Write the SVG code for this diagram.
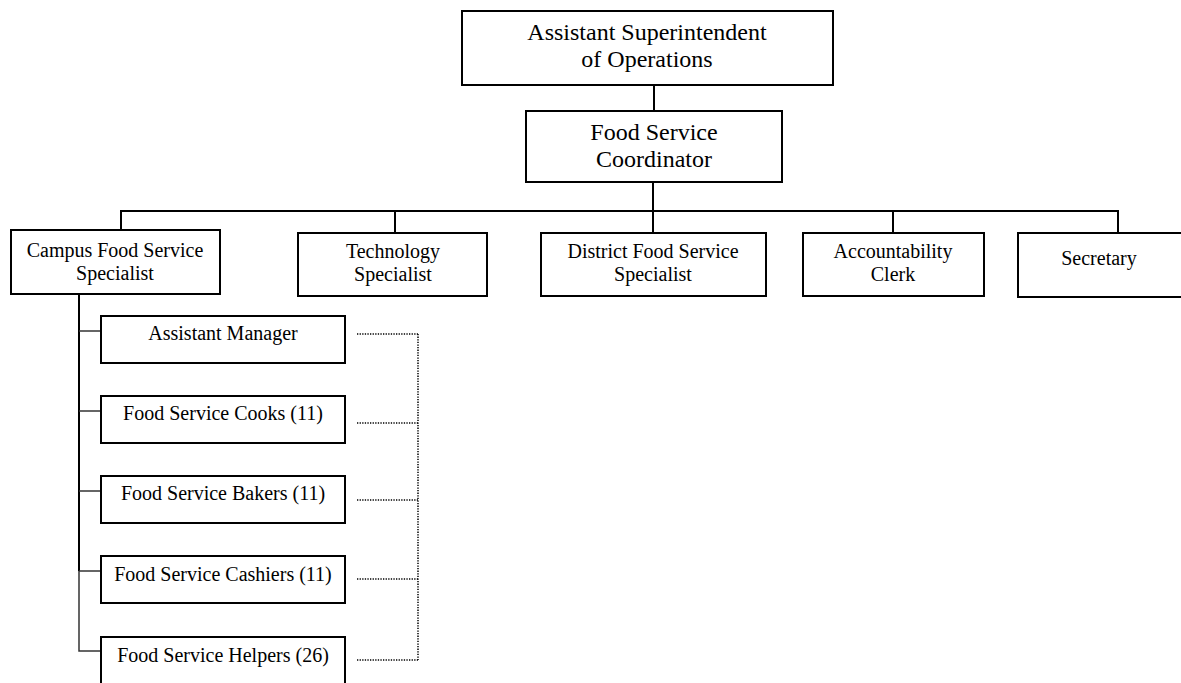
<svg xmlns="http://www.w3.org/2000/svg" width="1181" height="683" viewBox="0 0 1181 683">
<style>
.box{fill:#fff;stroke:#000;stroke-width:2}
.t{font-family:"Liberation Serif","Times New Roman",serif;fill:#000;text-anchor:middle}
.big{font-size:24px}
.mid{font-size:20px}
.c{stroke:#000;stroke-width:2;fill:none}
.g{stroke:#333;stroke-width:1.5;fill:none}
.d{stroke:#000;stroke-width:1.5;fill:none;stroke-dasharray:1.3 1.3}
</style>
<rect width="1181" height="683" fill="#fff"/>
<g id="connectors">
<line class="c" x1="654" y1="85" x2="654" y2="111"/>
<line class="c" x1="653" y1="182" x2="653" y2="233"/>
<line class="c" x1="120" y1="211" x2="1119" y2="211"/>
<line class="c" x1="121" y1="210" x2="121" y2="230"/>
<line class="c" x1="395" y1="210" x2="395" y2="233"/>
<line class="c" x1="893" y1="210" x2="893" y2="233"/>
<line class="c" x1="1118" y1="210" x2="1118" y2="233"/>
<line class="c" x1="79" y1="294" x2="79" y2="571"/>
<path class="g" d="M79 571 V651 H101"/>
<line class="g" x1="79" y1="331" x2="101" y2="331"/>
<line class="g" x1="79" y1="411" x2="101" y2="411"/>
<line class="g" x1="79" y1="491" x2="101" y2="491"/>
<line class="g" x1="79" y1="571" x2="101" y2="571"/>
<line class="d" x1="357" y1="334" x2="418" y2="334"/>
<line class="d" x1="357" y1="423" x2="418" y2="423"/>
<line class="d" x1="357" y1="500" x2="418" y2="500"/>
<line class="d" x1="357" y1="579" x2="418" y2="579"/>
<line class="d" x1="357" y1="660" x2="418" y2="660"/>
<line class="d" x1="418" y1="334" x2="418" y2="660"/>
</g>
<g id="n-asst-super">
<rect class="box" x="462" y="11" width="371" height="74"/>
<text class="t big" x="647" y="40">Assistant Superintendent</text>
<text class="t big" x="647" y="67">of Operations</text>
</g>
<g id="n-coordinator">
<rect class="box" x="526" y="111" width="256" height="71"/>
<text class="t big" x="654" y="140">Food Service</text>
<text class="t big" x="654" y="167">Coordinator</text>
</g>
<g id="n-campus">
<rect class="box" x="11" y="230" width="209" height="64"/>
<text class="t mid" x="115" y="257">Campus Food Service</text>
<text class="t mid" x="115" y="280">Specialist</text>
</g>
<g id="n-technology">
<rect class="box" x="298" y="233" width="189" height="63"/>
<text class="t mid" x="393" y="258">Technology</text>
<text class="t mid" x="393" y="281">Specialist</text>
</g>
<g id="n-district">
<rect class="box" x="541" y="233" width="225" height="63"/>
<text class="t mid" x="653" y="258">District Food Service</text>
<text class="t mid" x="653" y="281">Specialist</text>
</g>
<g id="n-accountability">
<rect class="box" x="803" y="233" width="181" height="63"/>
<text class="t mid" x="893" y="258">Accountability</text>
<text class="t mid" x="893" y="281">Clerk</text>
</g>
<g id="n-secretary">
<rect class="box" x="1018" y="233" width="180" height="64"/>
<text class="t mid" x="1099" y="265">Secretary</text>
</g>
<g id="n-asst-manager">
<rect class="box" x="101" y="316" width="244" height="47"/>
<text class="t mid" x="223" y="340">Assistant Manager</text>
</g>
<g id="n-cooks">
<rect class="box" x="101" y="396" width="244" height="47"/>
<text class="t mid" x="223" y="420">Food Service Cooks (11)</text>
</g>
<g id="n-bakers">
<rect class="box" x="101" y="476" width="244" height="47"/>
<text class="t mid" x="223" y="500">Food Service Bakers (11)</text>
</g>
<g id="n-cashiers">
<rect class="box" x="101" y="556" width="244" height="47"/>
<text class="t mid" x="223" y="581">Food Service Cashiers (11)</text>
</g>
<g id="n-helpers">
<rect class="box" x="101" y="637" width="244" height="60"/>
<text class="t mid" x="223" y="662">Food Service Helpers (26)</text>
</g>
</svg>
